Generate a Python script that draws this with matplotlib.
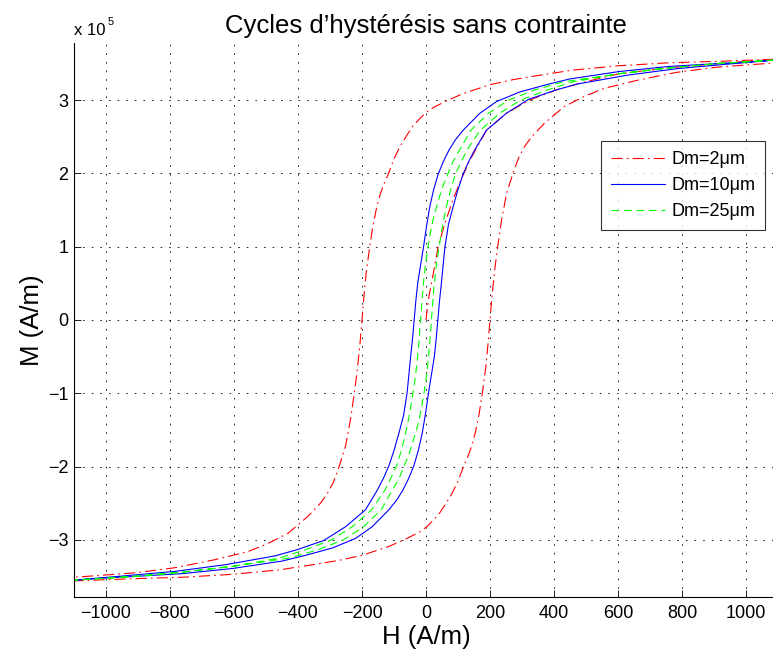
import numpy as np
import matplotlib
matplotlib.use("Agg")
import matplotlib.pyplot as plt
from matplotlib.lines import Line2D

plt.rcParams['font.family'] = ['Liberation Sans', 'DejaVu Sans']
plt.rcParams['lines.scale_dashes'] = False

# descending branches (H in A/m, M in 1e5 A/m)
h_red = [1100, 914, 759, 603, 458, 355, 272, 199, 116, 64, 23, 0, -19, -40, -60, -81,
         -100, -117, -130, -143, -155, -166, -176, -187, -195, -200, -207, -216, -224,
         -236, -252, -273, -290, -310, -330, -369, -431, -494, -556, -659, -784, -908,
         -1033, -1100]
m_red = [3.56, 3.53, 3.51, 3.47, 3.41, 3.34, 3.28, 3.21, 3.09, 2.99, 2.90, 2.83, 2.75,
         2.65, 2.52, 2.37, 2.20, 2.00, 1.87, 1.72, 1.52, 1.28, 1.00, 0.64, 0.27, 0.0,
         -0.36, -0.73, -1.00, -1.36, -1.73, -2.02, -2.22, -2.38, -2.50, -2.68, -2.91,
         -3.05, -3.16, -3.27, -3.38, -3.45, -3.49, -3.51]

# first magnetisation curve of the Dm=2um sample
h_red0 = [0, 7, 23, 38, 59, 85, 111, 137, 189, 251, 323, 407, 479, 603, 759, 914, 1100]
m_red0 = [0.0, 0.27, 0.64, 1.00, 1.32, 1.65, 1.93, 2.18, 2.59, 2.82, 3.00, 3.14, 3.23,
          3.36, 3.44, 3.50, 3.56]

h_blue = [1100, 1000, 914, 759, 603, 450, 375, 292, 220, 168, 116, 92, 72, 54, 38, 24,
          12, 2, -8, -18, -26, -32, -37, -42, -48, -59, -70, -85, -100, -116, -133,
          -152, -189, -251, -320, -407, -473, -628, -784, -939, -1100]
m_blue = [3.55, 3.52, 3.50, 3.46, 3.39, 3.29, 3.21, 3.11, 2.98, 2.82, 2.59, 2.46, 2.32,
          2.16, 1.99, 1.78, 1.55, 1.29, 0.99, 0.72, 0.50, 0.25, 0.0, -0.25, -0.50, -0.99,
          -1.30, -1.55, -1.78, -1.99, -2.16, -2.32, -2.59, -2.82, -3.01, -3.14, -3.22,
          -3.34, -3.43, -3.49, -3.55]

h_green = [1100, 914, 759, 603, 430, 340, 258, 195, 140, 105, 84, 68, 54, 42, 24, 14, 6,
           -1, -7, -14, -17, -24, -33, -41, -52, -64, -77, -92, -110, -128, -170, -230,
           -295, -380, -460, -600, -760, -914, -1100]
m_green = [3.55, 3.50, 3.44, 3.36, 3.25, 3.14, 3.00, 2.82, 2.59, 2.32, 2.16, 1.99, 1.84,
           1.68, 1.41, 1.20, 0.99, 0.78, 0.55, 0.18, 0.0, -0.41, -0.77, -1.00, -1.30,
           -1.55, -1.78, -1.99, -2.16, -2.32, -2.59, -2.82, -3.00, -3.14, -3.25, -3.36,
           -3.44, -3.50, -3.55]

labels = ['Dm=2\u03bcm', 'Dm=10\u03bcm', 'Dm=25\u03bcm']
xticks = [-1000, -800, -600, -400, -200, 0, 200, 400, 600, 800, 1000]
yticks = [-3, -2, -1, 0, 1, 2, 3]


def loop(h, m):
    # full cycle: descending branch, then the ascending one (point symmetric)
    h = np.array(h, float)
    m = np.array(m, float)
    return np.concatenate([h, -h]), np.concatenate([m, -m])


W, H = 773, 657
fig = plt.figure(figsize=(W / 100, H / 100), dpi=100)
ax = fig.add_axes([74 / W, 1 - 597 / H, (778 - 74) / W, (597 - 43) / H])

hr, mr = loop(h_red, m_red)
hr = np.concatenate([h_red0, hr])
mr = np.concatenate([m_red0, mr])
hb, mb = loop(h_blue, m_blue)
hg, mg = loop(h_green, m_green)

red_ls = (0, (8, 3, 1.2, 3))
green_ls = (0, (5.5, 3.5))
ax.plot(hr, mr, color='#ff0000', lw=0.8, linestyle=red_ls)
ax.plot(hb, mb, color='#0000ff', lw=0.8)
ax.plot(hg, mg, color='#00ff00', lw=0.8, linestyle=green_ls)

ax.set_xlim(-1100, 1100)
ax.set_ylim(-3.78, 3.78)
ax.set_xticks(xticks)
ax.set_yticks(yticks)
ax.tick_params(direction='in', length=5, width=0.6, labelsize=13, colors='black')
ax.tick_params(axis='x', pad=6)
ax.tick_params(axis='y', pad=4)
ax.grid(True, color='black', lw=0.6, linestyle=(0, (1.2, 5)))
for s in ['top', 'right']:
    ax.spines[s].set_visible(False)
for s in ['left', 'bottom']:
    ax.spines[s].set_linewidth(0.8)

ax.set_title('Cycles d\u2019hystérésis sans contrainte', fontsize=18.5, pad=7)
ax.set_xlabel('H (A/m)', fontsize=18.5, labelpad=2)
ax.set_ylabel('M (A/m)', fontsize=18.5, labelpad=3)

fig.text(74 / W, 1 - 35 / H, 'x 10', fontsize=12)
fig.text(108 / W, 1 - 25 / H, '5', fontsize=8)

handles = [Line2D([], [], color='#ff0000', lw=0.8, linestyle=red_ls),
           Line2D([], [], color='#0000ff', lw=0.8),
           Line2D([], [], color='#00ff00', lw=0.8, linestyle=green_ls)]
leg = ax.legend(handles, labels, loc='upper left',
                bbox_to_anchor=(601 / W, 1 - 141 / H), bbox_transform=fig.transFigure,
                fontsize=13, frameon=True, fancybox=False, borderaxespad=0,
                handlelength=3.0, handletextpad=0.35, borderpad=0.55, labelspacing=0.5)
leg.get_frame().set_edgecolor('black')
leg.get_frame().set_linewidth(0.8)

fig.savefig('out.png', dpi=100)
